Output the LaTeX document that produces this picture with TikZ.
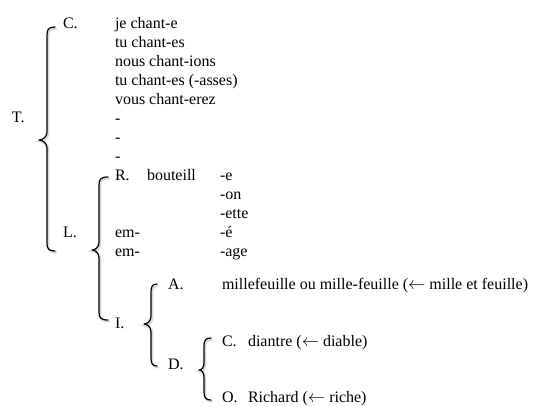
\documentclass[tikz,border=0pt]{standalone}
\usepackage{fontspec}
\setmainfont{Liberation Serif}
\tikzset{
  lbl/.style={anchor=base west, inner sep=0pt, outer sep=0pt, font=\fontsize{16}{19}\selectfont},
  braceline/.style={line width=1.2pt, line cap=round, line join=round},
  braceshadow/.style={line width=2.2pt, draw=black!45, opacity=0.35, line cap=round, shift={(1.2,1.5)}}
}
% #1 end x, #2 vertical x, #3 tip x, #4 top y, #5 tip y, #6 bottom y
\newcommand\mybracepath[7]{%
  \draw[#7] (#1,#4) .. controls (#2+1.5,#4) and (#2,#4+2.5) .. (#2,#4+8)
    -- (#2,#5-8) .. controls (#2,#5-2.5) and (#3+3,#5) .. (#3,#5)
    .. controls (#3+3,#5) and (#2,#5+2.5) .. (#2,#5+8)
    -- (#2,#6-8) .. controls (#2,#6-2.5) and (#2+1.5,#6) .. (#1,#6);}
\newcommand\mybrace[6]{%
  \mybracepath{#1}{#2}{#3}{#4}{#5}{#6}{braceshadow}%
  \mybracepath{#1}{#2}{#3}{#4}{#5}{#6}{braceline}}
\begin{document}
\begin{tikzpicture}[x=1pt, y=-1pt]
\useasboundingbox (0,0) rectangle (533,407);
\clip (0,0) rectangle (533,407);
% braces
\mybrace{55}{47}{39}{27}{140}{251}
\mybrace{108}{99}{92}{177}{250}{320}
\mybrace{157}{151}{144}{284}{324}{366}
\mybrace{211}{204}{199}{338}{370}{400}
% labels
\node[lbl] (T) at (12,122) {T.};
\node[lbl] (C) at (63,28) {C.};
\node[lbl] (l1) at (115,28) {je chant-e};
\node[lbl] (l2) at (115,47) {tu chant-es};
\node[lbl] (l3) at (115,66) {nous chant-ions};
\node[lbl] (l4) at (115,85) {tu chant-es (-asses)};
\node[lbl] (l5) at (115,104) {vous chant-erez};
\node[lbl] (l6) at (115,123) {-};
\node[lbl] (l7) at (115,142) {-};
\node[lbl] (l8) at (115,161) {-};
\node[lbl] (R) at (115,180) {R.};
\node[lbl] (bt) at (147,180) {bouteill};
\node[lbl] (s1) at (220,180) {-e};
\node[lbl] (s2) at (220,199) {-on};
\node[lbl] (s3) at (220,218) {-ette};
\node[lbl] (L) at (63,237) {L.};
\node[lbl] (em1) at (115,237) {em-};
\node[lbl] (s4) at (220,237) {-é};
\node[lbl] (em2) at (115,256) {em-};
\node[lbl] (s5) at (220,256) {-age};
\node[lbl] (I) at (115,328) {I.};
\node[lbl] (A) at (168,289) {A.};
\node[lbl] (mf) at (222,289) {millefeuille ou mille-feuille ($\leftarrow$ mille et feuille)};
\node[lbl] (D) at (168,369) {D.};
\node[lbl] (C2) at (222,346) {C.};
\node[lbl] (di) at (248,346) {diantre ($\leftarrow$ diable)};
\node[lbl] (O) at (222,402) {O.};
\node[lbl] (ri) at (248,402) {Richard ($\leftarrow$ riche)};
\end{tikzpicture}
\end{document}
